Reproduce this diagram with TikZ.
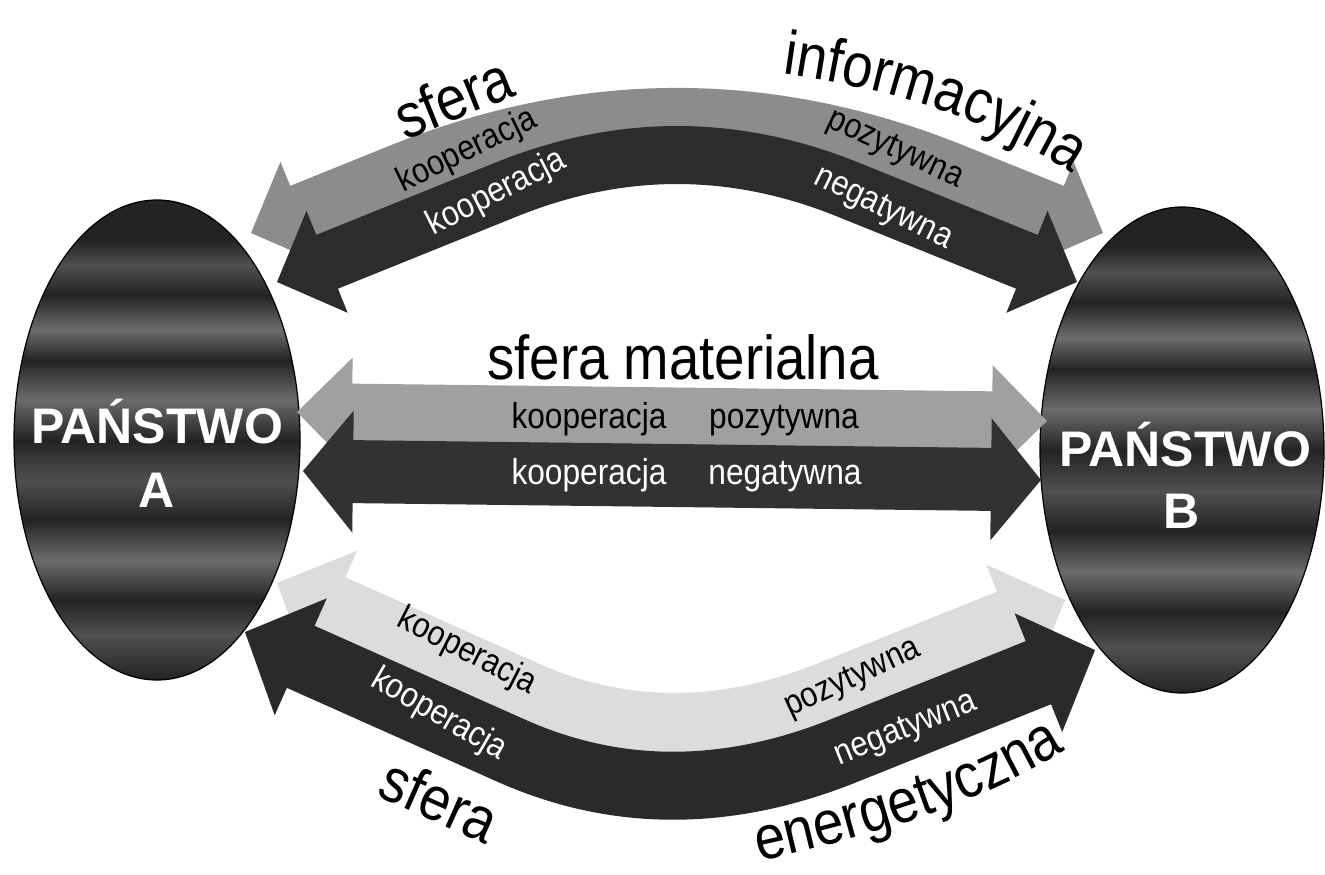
\documentclass[tikz,border=0pt]{standalone}
\usepackage{fontspec}
\setmainfont{Liberation Sans}[FakeStretch=0.88]
\newfontfamily\statefont{Liberation Sans}
\usetikzlibrary{calc,shapes.geometric,decorations.text}
\definecolor{stD}{HTML}{232323}
\definecolor{stL}{HTML}{6C6C6C}
\definecolor{stM}{HTML}{505050}
\definecolor{topLight}{HTML}{8C8C8C}
\definecolor{topDark}{HTML}{2C2C2C}
\definecolor{midLight}{HTML}{A0A0A0}
\definecolor{midDark}{HTML}{323232}
\definecolor{botLight}{HTML}{DCDCDC}
\definecolor{botDark}{HTML}{2A2A2A}
\pgfdeclareverticalshading{stripes}{100bp}{color(0bp)=(stD); color(25bp)=(stD);
 color(29.7bp)=(stM); color(33.3bp)=(stD); color(37.5bp)=(stL); color(41.7bp)=(stD);
 color(45.8bp)=(stM); color(50bp)=(stD); color(54.2bp)=(stL); color(58.3bp)=(stD);
 color(61.5bp)=(stL); color(65.1bp)=(stD); color(68.2bp)=(stM); color(70.8bp)=(stD);
 color(75bp)=(stD); color(100bp)=(stD)}
\newcommand{\bigfnt}{\fontsize{62}{66}\selectfont}
% #1 colour, #2 left tip, #3 left tangent, #4 #5 controls, #6 right tangent, #7 right tip
\newcommand{\bandarrow}[7]{%
  \path ($(#2)!\bHL pt!(#3)$) coordinate (hbl) ($(#7)!\bHL pt!(#6)$) coordinate (hbr)
        ($(#2)!\bSL pt!(#3)$) coordinate (sbl) ($(#7)!\bSL pt!(#6)$) coordinate (sbr);
  \fill[#1] (#2) -- ($(hbl)!\bHW pt!90:(#2)$) -- ($(hbl)!\bHW pt!-90:(#2)$) -- cycle;
  \fill[#1] (#7) -- ($(hbr)!\bHW pt!90:(#7)$) -- ($(hbr)!\bHW pt!-90:(#7)$) -- cycle;
  \draw[#1, line width=\bSW pt] (sbl) -- (#3) .. controls (#4) and (#5) .. (#6) -- (sbr);
}
\tikzset{
  state/.style={ellipse, draw=black, line width=1.2pt, shading=stripes, inner sep=0pt},
  statelbl/.style={font=\statefont\fontsize{50}{60}\selectfont\bfseries, text=white, inner sep=0pt, anchor=base},
  lbl/.style={font=\fontsize{35}{38}\selectfont, inner sep=0pt},
  mlbl/.style={font=\fontsize{36}{38}\selectfont, inner sep=0pt, anchor=base},
  big/.style={font=\bigfnt, inner sep=0pt},
}
\begin{document}
\begin{tikzpicture}[x=1pt,y=-1pt]
\useasboundingbox (0,0) rectangle (1325,875);
\fill[white] (0,0) rectangle (1325,875);

% states
\node[state, minimum width=286pt, minimum height=480pt] (A) at (157,440) {};
\node[state, minimum width=284pt, minimum height=486pt] (B) at (1182,450) {};

% coordinates of the bands
\coordinate (tlA) at (251,233);   \coordinate (tlB) at (400,172.8);
\coordinate (tlC) at (584.7,98.3); \coordinate (tlD) at (769.3,98.3);
\coordinate (tlE) at (954,172.8); \coordinate (tlF) at (1103,233);
\coordinate (tdA) at (277,282);   \coordinate (tdB) at (506,189.6);
\coordinate (tdC) at (620,143.5); \coordinate (tdD) at (734,143.5);
\coordinate (tdE) at (848,189.6); \coordinate (tdF) at (1077,282);
\coordinate (mlA) at (297,412);   \coordinate (mlB) at (500,414.4);
\coordinate (mlC) at (600,415.6); \coordinate (mlD) at (750,417.4);
\coordinate (mlE) at (850,418.6); \coordinate (mlF) at (1047,421);
\coordinate (mdA) at (303,471);   \coordinate (mdB) at (500,473.4);
\coordinate (mdC) at (600,474.6); \coordinate (mdD) at (750,476.4);
\coordinate (mdE) at (850,477.7); \coordinate (mdF) at (1041,480);
\coordinate (blA) at (277,583);   \coordinate (blB) at (526,694);
\coordinate (blC) at (622.1,736.6); \coordinate (blD) at (723.5,736.6);
\coordinate (blE) at (830,694);   \coordinate (blF) at (1065,600);
\coordinate (bdA) at (245,632);   \coordinate (bdB) at (512,751);
\coordinate (bdC) at (616.4,797.3); \coordinate (bdD) at (726.7,797.3);
\coordinate (bdE) at (843,751);   \coordinate (bdF) at (1095,650);

% informacyjna band
\def\bHL{54}\def\bSL{50}\def\bHW{55}\def\bSW{58}
\bandarrow{topLight}{tlA}{tlB}{tlC}{tlD}{tlE}{tlF}
\bandarrow{topDark}{tdA}{tdB}{tdC}{tdD}{tdE}{tdF}
% materialna band
\def\bHL{55}\def\bSL{51}\def\bHW{55}\def\bSW{58}
\bandarrow{midLight}{mlA}{mlB}{mlC}{mlD}{mlE}{mlF}
\def\bHL{50}\def\bSL{46}\def\bHW{61}\def\bSW{63}
\bandarrow{midDark}{mdA}{mdB}{mdC}{mdD}{mdE}{mdF}
% energetyczna band
\def\bHL{60}\def\bSL{56}\def\bHW{62}\def\bSW{66}
\bandarrow{botLight}{blA}{blB}{blC}{blD}{blE}{blF}
\def\bHL{61}\def\bSL{57}\def\bHW{64}\def\bSW{68}
\bandarrow{botDark}{bdA}{bdB}{bdC}{bdD}{bdE}{bdF}

% state labels
\node[statelbl] (A1) at (157,443) {PAŃSTWO};
\node[statelbl] (A2) at (157,507) {A};
\node[statelbl] (B1) at (1185,466) {PAŃSTWO};
\node[statelbl] (B2) at (1182,528) {B};

% top band texts
\node[big, rotate=22] (sf1) at (453,97) {sfera};
\coordinate (iA) at (768,72); \coordinate (iB) at (880,86);
\coordinate (iC) at (990,117); \coordinate (iD) at (1085,182);
\path[decorate, decoration={text along path, text align=center,
  text={|\bigfnt|informacyjna}}] (iA) .. controls (iB) and (iC) .. (iD);
\node[lbl, rotate=26] (tk1) at (467,151) {kooperacja};
\node[lbl, rotate=27, text=white] (tk2) at (497,193) {kooperacja};
\node[lbl, rotate=-25] (tp1) at (895,150) {pozytywna};
\node[lbl, rotate=-26, text=white] (tn1) at (883,209) {negatywna};

% middle band texts
\node[big] (sfm) at (683,357) {sfera materialna};
\node[mlbl] (mk1) at (589,428) {kooperacja};
\node[mlbl] (mp1) at (784,428) {pozytywna};
\node[mlbl, text=white] (mk2) at (589,484) {kooperacja};
\node[mlbl, text=white] (mn2) at (785,484) {negatywna};

% bottom band texts
\node[lbl, rotate=-27] (bk1) at (467,652) {kooperacja};
\node[lbl, rotate=-30, text=white] (bk2) at (439,715) {kooperacja};
\node[lbl, rotate=25] (bp1) at (853,679) {pozytywna};
\node[lbl, rotate=22, text=white] (bn2) at (906,730) {negatywna};
\node[big, rotate=-24] (sf2) at (440,800) {sfera};
\coordinate (eA) at (745,864); \coordinate (eB) at (850,842);
\coordinate (eC) at (980,808); \coordinate (eD) at (1078,742);
\path[decorate, decoration={text along path, text align=center,
  text={|\bigfnt|energetyczna}}] (eA) .. controls (eB) and (eC) .. (eD);
\end{tikzpicture}
\end{document}
